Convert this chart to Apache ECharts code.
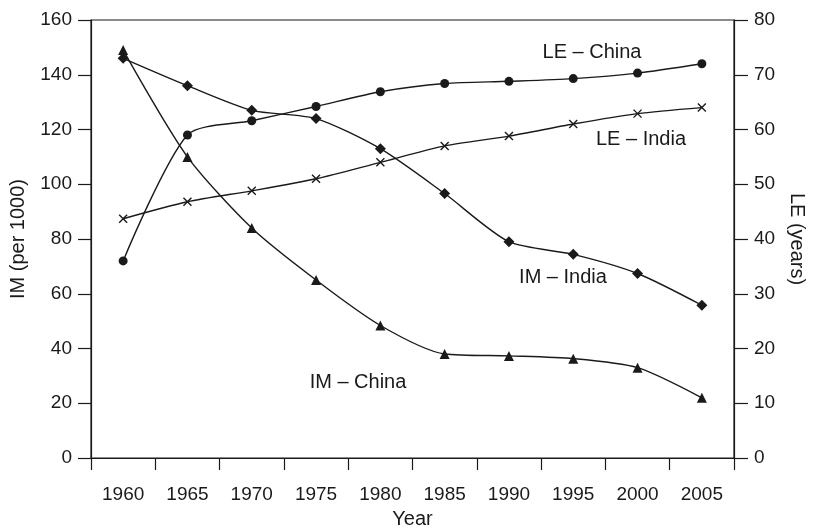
<!DOCTYPE html>
<html>
<head>
<meta charset="utf-8">
<script src="https://cdn.jsdelivr.net/npm/echarts@6/dist/echarts.min.js"></script>
<style>
  html, body { margin: 0; padding: 0; background: #fff; }
  #chart { width: 814px; height: 528px; }
</style>
</head>
<body>
<div id="chart"></div>
<script>
// Years on the horizontal axis
const years = ['1960', '1965', '1970', '1975', '1980', '1985', '1990', '1995', '2000', '2005'];

// Infant mortality (per 1000), left axis
const imChina = [149, 110, 84, 65, 48.4, 38, 37.3, 36.3, 33, 22];
const imIndia = [146, 136, 127, 124, 113, 96.6, 79, 74.4, 67.4, 55.8];

// Life expectancy (years), right axis
const leChina = [36, 59, 61.6, 64.2, 66.9, 68.4, 68.8, 69.3, 70.3, 72];
const leIndia = [43.7, 46.8, 48.8, 51, 54, 57, 58.8, 61, 62.9, 64];

// Curve labels
const curveNames = ['IM \u2013 China', 'IM \u2013 India', 'LE \u2013 China', 'LE \u2013 India'];

const INK = '#1a1a1a';
const FONT = 'Liberation Sans, Arial, Helvetica, sans-serif';
const crossPath = 'path://M0,0L10,10M10,0L0,10';

const chart = echarts.init(document.getElementById('chart'), null, { renderer: 'canvas' });

function lineSeries(name, data, axisIndex, symbol, size, hollow) {
  return {
    name: name,
    type: 'line',
    yAxisIndex: axisIndex,
    data: data,
    smooth: 0.25,
    symbol: symbol,
    symbolSize: size,
    showAllSymbol: true,
    lineStyle: { color: INK, width: 1.4 },
    itemStyle: hollow
      ? { color: 'none', borderColor: INK, borderWidth: 1.4 }
      : { color: INK, borderColor: INK, borderWidth: 0 },
    emphasis: { disabled: true },
    z: 3
  };
}

const tickLabel = { color: INK, fontSize: 19, fontFamily: FONT };
const nameText = { color: INK, fontSize: 20, fontFamily: FONT };

function curveLabel(text, x, y) {
  return {
    type: 'text', x: x, y: y, z: 10,
    style: { text: text, fill: INK, font: '20px ' + FONT, align: 'center', verticalAlign: 'middle' }
  };
}

chart.setOption({
  animation: false,
  backgroundColor: '#fff',
  grid: {
    left: 91, right: 80, top: 20, bottom: 70,
    outerBoundsMode: 'none',
    containLabel: false,
    show: true, borderColor: INK, borderWidth: 1.2, backgroundColor: 'transparent'
  },
  xAxis: {
    type: 'category',
    data: years,
    boundaryGap: true,
    name: 'Year',
    nameLocation: 'middle',
    nameGap: 51,
    nameTextStyle: nameText,
    axisLine: { show: true, lineStyle: { color: INK, width: 1.2 } },
    axisTick: { show: true, inside: false, length: 12, alignWithLabel: false, lineStyle: { color: INK, width: 1.2 } },
    axisLabel: Object.assign({ margin: 27 }, tickLabel),
    splitLine: { show: false }
  },
  yAxis: [
    {
      type: 'value',
      min: 0, max: 160, interval: 20,
      position: 'left',
      name: 'IM (per 1000)',
      nameLocation: 'middle',
      nameRotate: 90,
      nameGap: 63,
      nameTextStyle: nameText,
      axisLine: { show: true, lineStyle: { color: INK, width: 1.2 } },
      axisTick: { show: true, inside: false, length: 13, lineStyle: { color: INK, width: 1.2 } },
      axisLabel: Object.assign({ margin: 19 }, tickLabel),
      splitLine: { show: false }
    },
    {
      type: 'value',
      min: 0, max: 80, interval: 10,
      position: 'right',
      name: 'LE (years)',
      nameLocation: 'middle',
      nameRotate: -90,
      nameGap: 53,
      nameTextStyle: nameText,
      axisLine: { show: true, lineStyle: { color: INK, width: 1.2 } },
      axisTick: { show: true, inside: false, length: 14, lineStyle: { color: INK, width: 1.2 } },
      axisLabel: Object.assign({ margin: 20 }, tickLabel),
      splitLine: { show: false }
    }
  ],
  series: [
    lineSeries(curveNames[0], imChina, 0, 'triangle', 10, false),
    lineSeries(curveNames[1], imIndia, 0, 'diamond', 11, false),
    lineSeries(curveNames[2], leChina, 1, 'circle', 9, false),
    lineSeries(curveNames[3], leIndia, 1, crossPath, 8, true)
  ],
  graphic: [
    curveLabel(curveNames[2], 592, 52),
    curveLabel(curveNames[3], 641, 139),
    curveLabel(curveNames[1], 563, 277),
    curveLabel(curveNames[0], 358, 382)
  ]
});
</script>
</body>
</html>
